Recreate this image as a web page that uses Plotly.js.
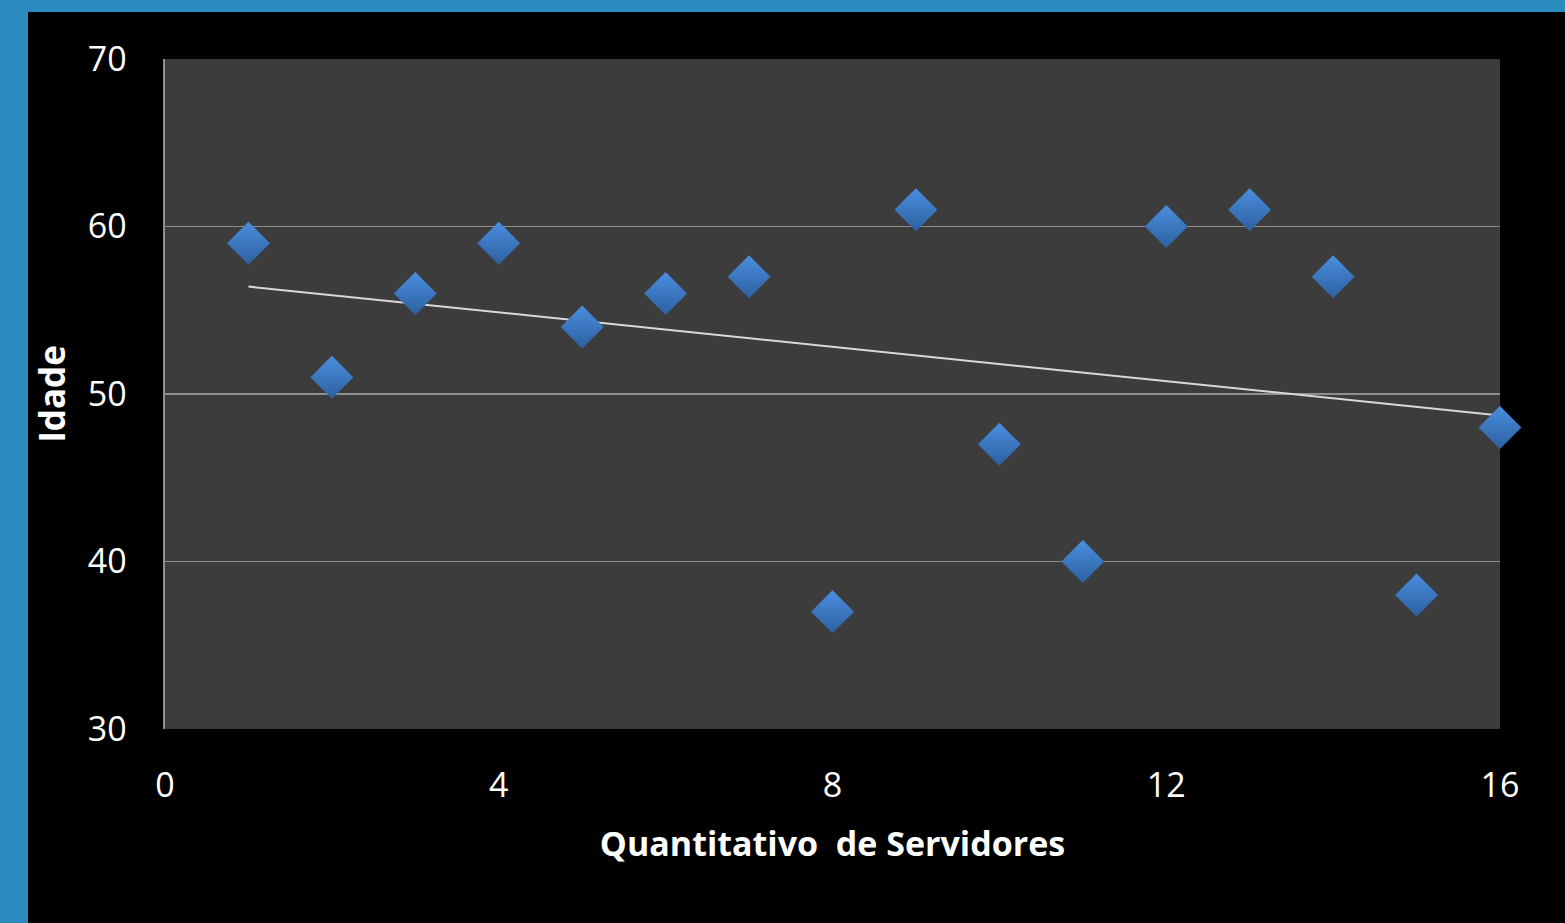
<!DOCTYPE html>
<html>
<head>
<meta charset="utf-8">
<script src="https://cdn.plot.ly/plotly-3.0.1.min.js"></script>
<style>
  html, body { margin: 0; padding: 0; background: #2a8bbf; width: 1565px; height: 923px; overflow: hidden; }
  #chart { position: absolute; left: 28px; top: 12px; width: 1537px; height: 911px; background: #000; }
</style>
</head>
<body>
<div id="chart"></div>
<script>
const servidores = [1, 2, 3, 4, 5, 6, 7, 8, 9, 10, 11, 12, 13, 14, 15, 16];
const idades = [59, 51, 56, 59, 54, 56, 57, 37, 61, 47, 40, 60, 61, 57, 38, 48];
const xTicks = [0, 4, 8, 12, 16];
const yTicks = [30, 40, 50, 60, 70];
const xTitle = "Quantitativo\u00a0 de Servidores";
const yTitle = "Idade";

// Linear trend line (least squares) from the data
const n = servidores.length;
const mx = servidores.reduce((a, b) => a + b, 0) / n;
const my = idades.reduce((a, b) => a + b, 0) / n;
let sxy = 0, sxx = 0;
for (let i = 0; i < n; i++) { sxy += (servidores[i] - mx) * (idades[i] - my); sxx += (servidores[i] - mx) ** 2; }
const slope = sxy / sxx, intercept = my - slope * mx;
const xMin = Math.min(...servidores), xMax = Math.max(...servidores);
const trendX = [xMin, xMax];
const trendY = trendX.map(x => intercept + slope * x);

const traces = [
  {
    x: trendX, y: trendY, type: 'scatter', mode: 'lines',
    line: { color: '#d8d8d8', width: 2 }, hoverinfo: 'skip', showlegend: false
  },
  {
    x: servidores, y: idades, type: 'scatter', mode: 'markers',
    marker: {
      symbol: 'diamond', size: 33, color: '#4a8ee0',
      gradient: { type: 'vertical', color: '#2d609f' },
      line: { width: 0 }
    },
    cliponaxis: false, showlegend: false
  }
];

const layout = {
  width: 1537, height: 911,
  paper_bgcolor: '#000000', plot_bgcolor: '#3c3c3c',
  margin: { l: 137, r: 65, t: 47, b: 194 },
  font: { family: 'Open Sans, sans-serif', color: '#ffffff' },
  showlegend: false,
  xaxis: {
    range: [0, 16], tickvals: xTicks, ticktext: xTicks.map(String),
    showgrid: false, zeroline: false,
    showline: false,
    ticks: 'outside', ticklen: 26, tickcolor: 'rgba(0,0,0,0)',
    tickfont: { size: 34, color: '#ffffff', family: 'Open Sans, sans-serif' },
    title: { text: xTitle, font: { size: 34, color: '#ffffff', family: 'Open Sans, sans-serif', weight: 'bold' }, standoff: 26 },
    fixedrange: true, automargin: false
  },
  yaxis: {
    range: [30, 70], tickvals: yTicks, ticktext: yTicks.map(String),
    showgrid: true, gridcolor: '#8e8e8e', gridwidth: 1.6,
    zeroline: false,
    showline: true, linecolor: '#8e8e8e', linewidth: 1.6,
    ticks: 'outside', ticklen: 30, tickcolor: 'rgba(0,0,0,0)',
    tickfont: { size: 34, color: '#ffffff', family: 'Open Sans, sans-serif' },
    title: { text: yTitle, font: { size: 35, color: '#ffffff', family: 'Open Sans, sans-serif', weight: 'bold' }, standoff: 16 },
    fixedrange: true, automargin: false
  }
};

Plotly.newPlot('chart', traces, layout, { displayModeBar: false, staticPlot: true });
</script>
</body>
</html>
